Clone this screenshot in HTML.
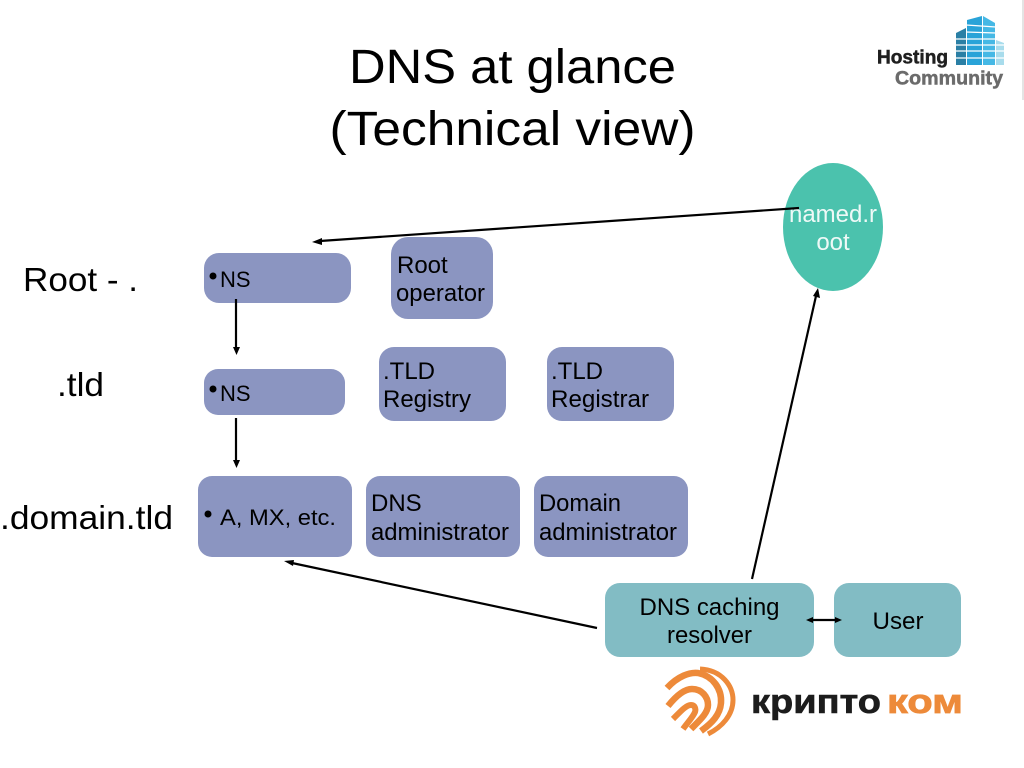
<!DOCTYPE html>
<html><head><meta charset="utf-8"><style>
html,body{margin:0;padding:0;background:#fff}
svg{display:block}
text{font-family:"Liberation Sans",sans-serif;fill:#000}
</style></head><body>
<svg width="1024" height="768" viewBox="0 0 1024 768" xmlns="http://www.w3.org/2000/svg">
<rect width="1024" height="768" fill="#fff"/>
<rect x="1022" y="0" width="2" height="100" fill="#e4e4e4"/>

<!-- Title -->
<text x="512.500" y="83" font-size="48" text-anchor="middle" textLength="327" lengthAdjust="spacingAndGlyphs">DNS at glance</text>
<text x="512.500" y="145" font-size="48" text-anchor="middle" textLength="366" lengthAdjust="spacingAndGlyphs">(Technical view)</text>

<!-- Hosting Community logo -->
<g>
<polygon points="956,33 966,28 966,65 956,65" fill="#2a7fa5"/>
<polygon points="967,20 982,16 982,65 967,65" fill="#29a3d8"/>
<polygon points="983,16 995,23 995,65 983,65" fill="#45b8e5"/>
<polygon points="996,40 1004,43 1004,65 996,65" fill="#a8dcec"/>
<g stroke="#fff" stroke-width="1.300">
<line x1="955" y1="39" x2="1005" y2="39"/><line x1="955" y1="45" x2="1005" y2="45"/>
<line x1="955" y1="51" x2="1005" y2="51"/><line x1="955" y1="58" x2="1005" y2="58"/>
<line x1="966" y1="25" x2="996" y2="27"/><line x1="966" y1="32" x2="996" y2="33"/>
</g>
<text x="877" y="63.500" font-size="19" font-weight="bold" stroke="#1f1f1f" stroke-width="0.500" style="fill:#1f1f1f" textLength="71" lengthAdjust="spacingAndGlyphs">Hosting</text>
<text x="895" y="84.500" font-size="19.500" font-weight="bold" stroke="#6b6b6b" stroke-width="0.500" style="fill:#6b6b6b" textLength="108" lengthAdjust="spacingAndGlyphs">Community</text>
</g>

<!-- Left labels -->
<text x="23" y="291" font-size="33" textLength="115" lengthAdjust="spacingAndGlyphs">Root - .</text>
<text x="57" y="396" font-size="33" textLength="47" lengthAdjust="spacingAndGlyphs">.tld</text>
<text x="0" y="529" font-size="33" textLength="173" lengthAdjust="spacingAndGlyphs">.domain.tld</text>

<!-- Blue boxes -->
<g fill="#8b95c1">
<rect x="204" y="253" width="147" height="50" rx="15"/>
<rect x="204" y="369" width="141" height="46" rx="14"/>
<rect x="198" y="476" width="154" height="81" rx="14"/>
<rect x="391" y="237" width="102" height="82" rx="17"/>
<rect x="379" y="347" width="127" height="74" rx="15"/>
<rect x="547" y="347" width="127" height="74" rx="15"/>
<rect x="366" y="476" width="154" height="81" rx="14"/>
<rect x="534" y="476" width="154" height="81" rx="14"/>
</g>

<!-- Teal boxes -->
<rect x="605" y="583" width="209" height="74" rx="15" fill="#82bcc4"/>
<rect x="834" y="583" width="127" height="74" rx="15" fill="#82bcc4"/>

<!-- Ellipse -->
<ellipse cx="833" cy="227" rx="50" ry="64" fill="#4bc2ad"/>
<text x="833" y="222" font-size="24" text-anchor="middle" style="fill:#eef9f7" textLength="88" lengthAdjust="spacingAndGlyphs">named.r</text>
<text x="833" y="250" font-size="24" text-anchor="middle" style="fill:#eef9f7">oot</text>

<!-- Box text -->
<g font-size="24">
<circle cx="213" cy="276" r="3.500" fill="#000"/>
<text x="220" y="287" font-size="22">NS</text>
<circle cx="213" cy="389" r="3.500" fill="#000"/>
<text x="220" y="401" font-size="22">NS</text>
<circle cx="208" cy="514" r="3.500" fill="#000"/>
<text x="220" y="525" font-size="22" textLength="116" lengthAdjust="spacingAndGlyphs">A, MX, etc.</text>
<text x="397" y="273">Root</text>
<text x="396" y="301" textLength="89" lengthAdjust="spacingAndGlyphs">operator</text>
<text x="383" y="379">.TLD</text>
<text x="383" y="407" textLength="88" lengthAdjust="spacingAndGlyphs">Registry</text>
<text x="551" y="379">.TLD</text>
<text x="551" y="407" textLength="98" lengthAdjust="spacingAndGlyphs">Registrar</text>
<text x="371" y="511">DNS</text>
<text x="371" y="540" textLength="138" lengthAdjust="spacingAndGlyphs">administrator</text>
<text x="539" y="511" textLength="82" lengthAdjust="spacingAndGlyphs">Domain</text>
<text x="539" y="540" textLength="138" lengthAdjust="spacingAndGlyphs">administrator</text>
<text x="709.500" y="615" text-anchor="middle" textLength="140" lengthAdjust="spacingAndGlyphs">DNS caching</text>
<text x="709.500" y="643" text-anchor="middle" textLength="85" lengthAdjust="spacingAndGlyphs">resolver</text>
<text x="898" y="629" text-anchor="middle" textLength="51" lengthAdjust="spacingAndGlyphs">User</text>
</g>

<!-- Connectors -->
<g stroke="#000" stroke-width="2.200" fill="none">
<line x1="799" y1="208" x2="320" y2="241"/>
<line x1="236" y1="299" x2="236" y2="349"/>
<line x1="236" y1="418" x2="236" y2="462"/>
<line x1="597" y1="628" x2="292" y2="563"/>
<line x1="752" y1="579" x2="816" y2="296"/>
<line x1="813" y1="620" x2="836" y2="620"/>
</g>
<g fill="#000">
<polygon points="312,242 322,238 322,245"/>
<polygon points="236.500,355 233,347 240,347"/>
<polygon points="236.500,468 233,460 240,460"/>
<polygon points="284,561 294,560 293,566"/>
<polygon points="818,288 820,298 813,296"/>
<polygon points="806,620 813,617 813,623"/>
<polygon points="842,620 835,617 835,623"/>
</g>

<!-- Kriptokom logo -->
<g fill="none" stroke="#ed8a3a" stroke-linecap="butt">
<path d="M700 669 C722 670 733 686 733 700 C733 715 722 727 708 734" stroke-width="5"/>
<path d="M667 688 C678 676 690 672 698 673 C713 676 722 689 721 703 C720 715 712 723 701 731" stroke-width="6.500"/>
<path d="M668 706 C676 696 684 689 692 689 C702 689 708 697 708 705 C708 713 700 720 691 729" stroke-width="6.500"/>
<path d="M673 719 C680 712 686 705 691 705 C695 705 696 709 695 712 C693 717 688 722 683 729" stroke-width="6"/>
</g>
<text x="751" y="713" font-size="34" font-weight="bold" stroke="#1c1c1c" stroke-width="0.600" textLength="130" lengthAdjust="spacingAndGlyphs" style="fill:#1c1c1c">крипто</text>
<text x="887" y="713" font-size="34" font-weight="bold" stroke="#ed8a3a" stroke-width="0.800" textLength="76" lengthAdjust="spacingAndGlyphs" style="fill:#ed8a3a">ком</text>
</svg>
</body></html>
